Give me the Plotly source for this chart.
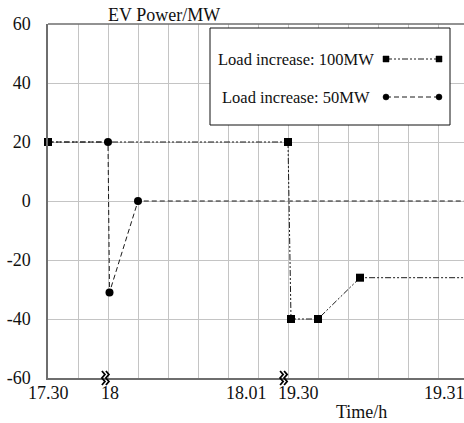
import plotly.graph_objects as go

# ---- data (x in grid units of the broken time axis) ----
x_100 = [0, 8, 8.1, 9, 10.4, 14]
y_100 = [20, 20, -40, -40, -26, -26]
x_50 = [0, 2, 2.05, 3, 14]
y_50 = [20, 20, -31, 0, 0]
x_tick_pos = [0.03, 2.07, 6.63, 8.36, 13.2]
x_tick_text = ["17.30", "18", "18.01", "19.30", "19.31"]
break_pos = [1.93, 7.87]
y_ticks = [-60, -40, -20, 0, 20, 40, 60]
y_tick_text = ["-60", "-40", "-20", "0", "20", "40", "60"]
series_names = ["Load increase: 100MW", "Load increase: 50MW"]

W, H = 464, 423
L, R, T, B = 48, 0, 24, 45
pw, ph = W - L - R, H - T - B
FONT = "Liberation Serif, Times New Roman, serif"
LINE_C = "#1a1a1a"
DASH100 = "6px,2px,2px,2px,2px,2px"
DASH50 = "5px,3px"
XMAX = pw / 30

def px(xp):
    return (xp - L) / pw

def py(yp):
    return (H - B - yp) / ph

fig = go.Figure()
fig.add_trace(go.Scatter(
    x=x_50, y=y_50, mode="lines", name=series_names[1],
    line=dict(color=LINE_C, width=1, dash=DASH50), showlegend=False))
fig.add_trace(go.Scatter(
    x=x_100, y=y_100, mode="lines", name=series_names[0],
    line=dict(color=LINE_C, width=1, dash=DASH100), showlegend=False))
fig.add_trace(go.Scatter(
    x=x_50[1:-1], y=y_50[1:-1], mode="markers", name=series_names[1],
    marker=dict(symbol="circle", size=8, color="#000000", opacity=1,
                line=dict(width=0)),
    cliponaxis=False, showlegend=False))
fig.add_trace(go.Scatter(
    x=x_100[:-1], y=y_100[:-1], mode="markers", name=series_names[0],
    marker=dict(symbol="square", size=8, color="#000000", opacity=1,
                line=dict(width=0)),
    cliponaxis=False, showlegend=False))

shapes = []
# top border
shapes.append(dict(type="line", xref="paper", yref="paper", x0=0, x1=1.02, y0=1, y1=1,
                   line=dict(color="#6e6e6e", width=1.5), layer="above"))
# legend box
shapes.append(dict(type="rect", xref="paper", yref="paper",
                   x0=px(210), x1=px(450), y0=py(125), y1=py(28),
                   line=dict(color="#111111", width=1), fillcolor="white", layer="above"))
annotations = []
for i, (name, yc, dash, sym) in enumerate([(series_names[0], 59, DASH100, "sq"),
                                           (series_names[1], 97, DASH50, "ci")]):
    annotations.append(dict(text=name, xref="paper", yref="paper", x=px(296), y=py(yc),
                            xanchor="center", yanchor="middle", showarrow=False,
                            font=dict(family=FONT, size=16.5, color="#111111")))
    shapes.append(dict(type="line", xref="paper", yref="paper", x0=px(386), x1=px(439),
                       y0=py(yc), y1=py(yc), line=dict(color=LINE_C, width=1, dash=dash),
                       layer="above"))
    for xc in (386, 439):
        stype = "rect" if sym == "sq" else "circle"
        shapes.append(dict(type=stype, xref="paper", yref="paper",
                           x0=px(xc - 3), x1=px(xc + 3), y0=py(yc + 3), y1=py(yc - 3),
                           line=dict(color="#000000", width=0.5), fillcolor="#000000",
                           layer="above"))
# axis break marks (two small vertical zigzags), drawn in paper coords
for bp in break_pos:
    cx = L + bp * 30
    for dx in (-2.5, 1.5):
        pts = [(cx + dx - 1.5, 371), (cx + dx + 1.5, 374.5), (cx + dx - 1.5, 378),
               (cx + dx + 1.5, 381.5), (cx + dx - 1.5, 385)]
        path = "M " + " L ".join(f"{px(a):.5f},{py(b):.5f}" for a, b in pts)
        shapes.append(dict(type="path", xref="paper", yref="paper", path=path,
                           line=dict(color="#000000", width=1.8), layer="above"))

for xv, tt in zip(x_tick_pos, x_tick_text):
    annotations.append(dict(text=tt, xref="x", yref="paper", x=xv, y=0, yshift=-15,
                            xanchor="center", yanchor="middle", showarrow=False,
                            font=dict(family=FONT, size=18, color="#111111")))
annotations.append(dict(text="EV Power/MW", xref="paper", yref="paper", x=px(164), y=py(15),
                        xanchor="center", yanchor="middle", showarrow=False,
                        font=dict(family=FONT, size=18, color="#111111")))
annotations.append(dict(text="Time/h", xref="paper", yref="paper", x=px(361), y=py(412),
                        xanchor="center", yanchor="middle", showarrow=False,
                        font=dict(family=FONT, size=18, color="#111111")))

fig.update_layout(
    width=W, height=H, margin=dict(l=L, r=R, t=T, b=B),
    paper_bgcolor="white", plot_bgcolor="white",
    shapes=shapes, annotations=annotations, showlegend=False,
    xaxis=dict(range=[0, XMAX], dtick=1, tick0=0, showgrid=True, gridcolor="#c4c4c4",
               gridwidth=1, showticklabels=False, ticks="", zeroline=False,
               showline=True, linecolor="#6e6e6e", linewidth=1.5),
    yaxis=dict(range=[-60, 60], tickvals=y_ticks, ticktext=y_tick_text,
               showgrid=True, gridcolor="#c4c4c4",
               gridwidth=1, zeroline=False, ticks="", ticklabelstandoff=12,
               showline=True, linecolor="#6e6e6e", linewidth=1.5,
               tickfont=dict(family=FONT, size=18, color="#111111")),
)
fig.write_html("out.html")
